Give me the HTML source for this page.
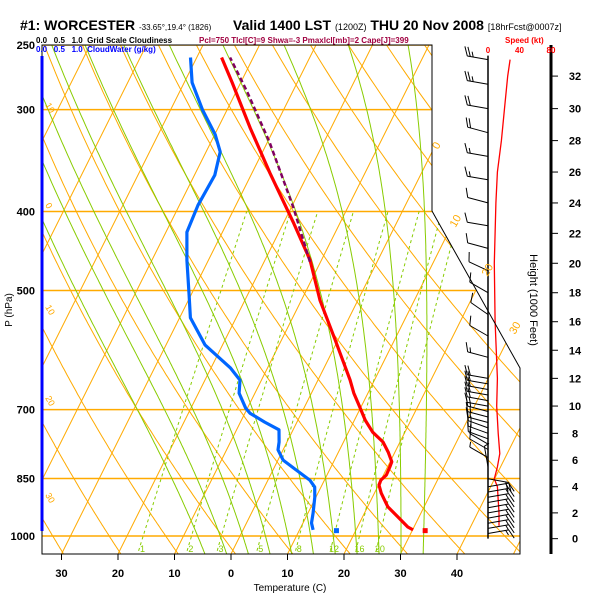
<!DOCTYPE html>
<html><head><meta charset="utf-8"><style>
body{margin:0;background:#fff;}
svg{display:block;font-family:"Liberation Sans",sans-serif;}
</style></head><body>
<svg id="chart" width="600" height="600" viewBox="0 0 600 600">
<defs><clipPath id="frameClip"><polygon points="42,45 432,45 432,211 520,368 520,554 42,554"/></clipPath></defs>
<g id="bg" clip-path="url(#frameClip)"></g>
<g id="marks"></g>
<g id="wind"></g>
<g id="axes"></g>
<polygon points="42,45 432,45 432,211 520,368 520,554 42,554" fill="none" stroke="#000" stroke-width="1"/>
<line x1="42" y1="56" x2="42" y2="531" stroke="#0000ff" stroke-width="3"/>
<g font-weight="bold">
<text x="20" y="30" font-size="14">#1: WORCESTER <tspan font-size="8" font-weight="normal">-33.65°,19.4° (1826)</tspan></text>
<text x="233" y="30" font-size="14">Valid 1400 LST <tspan font-size="9" font-weight="normal">(1200Z)</tspan> THU 20 Nov 2008 <tspan font-size="9" font-weight="normal">[18hrFcst@0007z]</tspan></text>
</g>
<text x="36" y="43" font-size="8" font-weight="bold">0.0 &#160; 0.5 &#160; 1.0 &#160;Grid Scale Cloudiness</text>
<text x="36" y="52" font-size="8" font-weight="bold" fill="#0000ff">0.0 &#160; 0.5 &#160; 1.0 &#160;CloudWater (g/kg)</text>
<text x="199" y="43" font-size="8" font-weight="bold" fill="#a00040">Pcl=750 Tlcl[C]=9 Shwa=-3 Pmaxlcl[mb]=2 Cape[J]=399</text>
<text x="505" y="43" font-size="8" font-weight="bold" fill="#ff0000">Speed (kt)</text>
<text x="12" y="310" font-size="10" transform="rotate(-90 12 310)" text-anchor="middle">P (hPa)</text>
<text x="290" y="591" font-size="10" text-anchor="middle">Temperature (C)</text>
<text x="530" y="300" font-size="11" transform="rotate(90 530 300)" text-anchor="middle">Height (1000 Feet)</text>
</svg>
<script>
// ---- data ----
const pressureTicks = [250, 300, 400, 500, 700, 850, 1000];
const tempTicks = [-30, -20, -10, 0, 10, 20, 30, 40];
const heightTicks = [0,2,4,6,8,10,12,14,16,18,20,22,24,26,28,30,32];
const tempP = [983,975,948,921,886,866,854,842,823,811,789,767,746,721,695,668,644,575,514,459,412,359,316,278,259];
const tempT = [30.1,28.9,26.3,23.6,21.2,20.1,20.0,20.5,20.4,20.3,18.8,17.0,14.3,11.9,9.8,7.5,5.7,-0.5,-6.7,-12.0,-18.4,-26.8,-34.3,-41.5,-45.6];
const dewP = [983,964,937,896,871,854,830,807,784,767,741,725,707,697,668,644,622,583,540,504,459,424,393,361,338,322,300,278,259];
const dewT = [12.4,11.5,10.9,9.8,8.9,7.4,4.1,0.9,-0.9,-1.4,-2.5,-5.7,-9.1,-10.3,-12.8,-13.8,-16.6,-23.1,-28.1,-30.5,-33.8,-36.3,-36.7,-36.4,-37.5,-39.9,-44.4,-48.6,-51.1];
const parcelP = [461,395,329,285,259];
const parcelT = [-11.9,-19.7,-29.6,-38.1,-44.1];
const sfcT = 32.3, sfcTd = 16.6, sfcP = 985;
const mixRatios = [1,2,3,5,8,12,16,20];
const speedKft = [1,2,3,4,4.6,5.5,6.5,8,10,12,16,20,24,26,28,30,32,33];
const speedKt = [14,14,13,12,8,12,15,13,11,12,9,8,10,12,17,21,25,28];
const barbKft = [0.4,0.8,1.2,1.6,2.0,2.4,2.8,3.2,3.6,4.0,4.6,5.5,6.2,6.8,7.2,7.6,8.0,8.4,8.8,9.2,9.6,10.0,10.4,10.8,11.2,11.6,12.0,13.5,15,16.5,18,19.5,21,22.5,24,25.5,27,28.5,30,31.5,33];
const barbDir = [80,80,80,80,80,80,80,80,80,80,100,350,300,300,300,290,290,290,285,285,285,280,280,280,280,280,280,285,300,305,300,295,285,280,285,280,280,285,280,280,280];
const barbSpd = [15,15,15,15,15,15,15,15,15,15,20,5,5,10,10,10,15,15,15,15,15,15,20,20,20,20,20,15,10,10,10,10,10,10,10,15,15,20,20,25,25];

// ---- axes ----
const NS='http://www.w3.org/2000/svg';
function yP(p){return 45+Math.log(p/250)/Math.log(4)*491;}
function xT(T,p){return 231+5.65*T+0.5*(554-yP(p));}
function yZ(k){const p=1013.25*Math.pow(1-6.8756e-6*k*1000,5.2559);return yP(p)-2;}
function xS(s){return 488+s*0.7875;}
function mk(tag,attrs,parent){const e=document.createElementNS(NS,tag);for(const k in attrs)e.setAttribute(k,attrs[k]);parent.appendChild(e);return e;}
function pathFrom(pts){return pts.map((q,i)=>(i?'L':'M')+q[0].toFixed(1)+','+q[1].toFixed(1)).join('');}
const bg=document.getElementById('bg'), marks=document.getElementById('marks'), wind=document.getElementById('wind'), axes=document.getElementById('axes');
const ORANGE='#ffaa00', GREEN='#88cc00';
const plist=[];for(let p=1060;p>=240;p-=5)plist.push(p);

for(let T=-120;T<=60;T+=10){
  const e=mk('line',{x1:xT(T,1060),y1:yP(1060),x2:xT(T,240),y2:yP(240),stroke:ORANGE,'stroke-width':1},bg);
  
  
}
for(let th=220;th<=420;th+=10){
  const pts=plist.map(p=>[xT(th*Math.pow(p/1000,0.286)-273.15,p),yP(p)]);
  const e=mk('path',{d:pathFrom(pts),fill:'none',stroke:ORANGE,'stroke-width':1},bg);
  
  
}
pressureTicks.forEach(p=>{
  const e=mk('line',{x1:42,y1:yP(p),x2:520,y2:yP(p),stroke:ORANGE,'stroke-width':1.5},bg);
  
  
});
function es(T){return 6.112*Math.exp(17.67*T/(T+243.5));}
function dTdp(T,p){const Tk=T+273.15;const rs=0.622*es(T)/(p-es(T));const L=2.5e6,Rd=287,cp=1004;
  return (Rd*Tk+L*rs)/(p*(cp+L*L*rs*0.622/(Rd*Tk*Tk)));}
[-7.5,-3.5,0.5,4.5,8.5,12.5,16.5,20.5,24.5,28.5,32.5].forEach(t0=>{
  const up=[];let T=t0;for(let p=1000;p>=240;p-=1){up.push([xT(T,p),yP(p)]);T-=dTdp(T,p);}
  const dn=[];T=t0;for(let p=1000;p<=1060;p+=1){dn.push([xT(T,p),yP(p)]);T+=dTdp(T,p);}
  const pts=dn.reverse().concat(up).filter((q,i)=>i%4===0);
  const e=mk('path',{d:pathFrom(pts),fill:'none',stroke:GREEN,'stroke-width':1},bg);
  
  
});
mixRatios.forEach(w=>{
  const pts=[];for(let p=1060;p>=400;p-=10){const e=w*p/(622+w);const a=Math.log(e/6.112);const Td=243.5*a/(17.67-a);pts.push([xT(Td,p),yP(p)]);}
  const e=mk('path',{d:pathFrom(pts),fill:'none',stroke:GREEN,'stroke-width':1,'stroke-dasharray':'3,3'},bg);
  
  
  const p0=1035,e0=w*p0/(622+w),a0=Math.log(e0/6.112),Td0=243.5*a0/(17.67-a0);
  const t=mk('text',{x:xT(Td0,p0)+3,y:yP(p0)+4,'font-size':9,fill:GREEN,'text-anchor':'middle'},axes);
  t.textContent=w;
  
  
});
[[0,150],[10,228],[20,277],[30,335]].forEach(([T,y])=>{
  const x=231+5.65*T+0.5*(554-y);
  const t=mk('text',{x:x+5,y:y,'font-size':11,fill:ORANGE,transform:`rotate(-60 ${x+5} ${y})`},axes);
  t.textContent=T;
  
  
});
[['10',105],['0',205],['10',307],['20',398],['30',495]].forEach(([s,y])=>{
  const t=mk('text',{x:45,y:y,'font-size':9,fill:ORANGE,transform:`rotate(60 45 ${y})`},axes);
  t.textContent=s;
  
  
});
pressureTicks.forEach(p=>{
  const t=mk('text',{x:35,y:yP(p)+4,'font-size':11,'font-weight':'bold','text-anchor':'end'},axes);
  t.textContent=p;
  
  
});
tempTicks.forEach(T=>{
  const x=231+5.65*T;
  const l=mk('line',{x1:x,y1:554,x2:x,y2:560,stroke:'#000'},axes);
  
  
  const t=mk('text',{x:x,y:577,'font-size':11,'font-weight':'bold','text-anchor':'middle'},axes);
  t.textContent=Math.abs(T);
  
  
});
const ha=mk('line',{x1:551,y1:45,x2:551,y2:554,stroke:'#000','stroke-width':3},axes);


heightTicks.forEach(k=>{
  const y=yZ(k);
  const l=mk('line',{x1:551,y1:y,x2:558,y2:y,stroke:'#000'},axes);
  
  
  const t=mk('text',{x:575,y:y+4,'font-size':11,'font-weight':'bold','text-anchor':'middle'},axes);
  t.textContent=k;
  
  
});
[0,40,80].forEach(s=>{
  const t=mk('text',{x:xS(s),y:53,'font-size':8,'font-weight':'bold',fill:'#ff0000','text-anchor':'middle'},axes);
  t.textContent=s;
  
  
});
const tl=mk('path',{d:pathFrom(tempP.map((p,i)=>[xT(tempT[i],p),yP(p)])),fill:'none',stroke:'#ff0000','stroke-width':3.2,'stroke-linejoin':'round'},marks);


const dl=mk('path',{d:pathFrom(dewP.map((p,i)=>[xT(dewT[i],p),yP(p)])),fill:'none',stroke:'#0066ff','stroke-width':3.2,'stroke-linejoin':'round'},marks);


const pl=mk('path',{d:pathFrom(parcelP.map((p,i)=>[xT(parcelT[i],p),yP(p)])),fill:'none',stroke:'#800060','stroke-width':2.5,'stroke-dasharray':'5,3'},marks);


const sd1=mk('rect',{x:xT(sfcT,sfcP)-2.5,y:yP(sfcP)-2.5,width:5,height:5,fill:'#ff0000'},marks);


const sd2=mk('rect',{x:xT(sfcTd,sfcP)-2.5,y:yP(sfcP)-2.5,width:5,height:5,fill:'#0066ff'},marks);


const st=mk('line',{x1:488,y1:yZ(33)-4,x2:488,y2:yZ(0),stroke:'#000','stroke-width':1.5},wind);


const sl=mk('path',{d:pathFrom(speedKft.map((k,i)=>[xS(speedKt[i]),yZ(k)])),fill:'none',stroke:'#ff0000','stroke-width':1.3},wind);


barbKft.forEach((k,i)=>{
  const y=yZ(k),d=barbDir[i]*Math.PI/180,L=21;
  const ux=Math.sin(d),uy=-Math.cos(d);
  const tx=488+ux*L,ty=y+uy*L;
  let s='M488,'+y.toFixed(1)+'L'+tx.toFixed(1)+','+ty.toFixed(1);
  let spd=barbSpd[i],pos=0;
  const px=-uy,py=ux;
  while(spd>=10){const bx=tx-ux*pos,by=ty-uy*pos;s+='M'+bx.toFixed(1)+','+by.toFixed(1)+'l'+(px*9+ux*4).toFixed(1)+','+(py*9+uy*4).toFixed(1);spd-=10;pos+=3;}
  if(spd>=5){const bx=tx-ux*pos,by=ty-uy*pos;s+='M'+bx.toFixed(1)+','+by.toFixed(1)+'l'+(px*5+ux*2).toFixed(1)+','+(py*5+uy*2).toFixed(1);}
  const b=mk('path',{d:s,fill:'none',stroke:'#000','stroke-width':1},wind);
  
  
});
</script>
</body></html>
